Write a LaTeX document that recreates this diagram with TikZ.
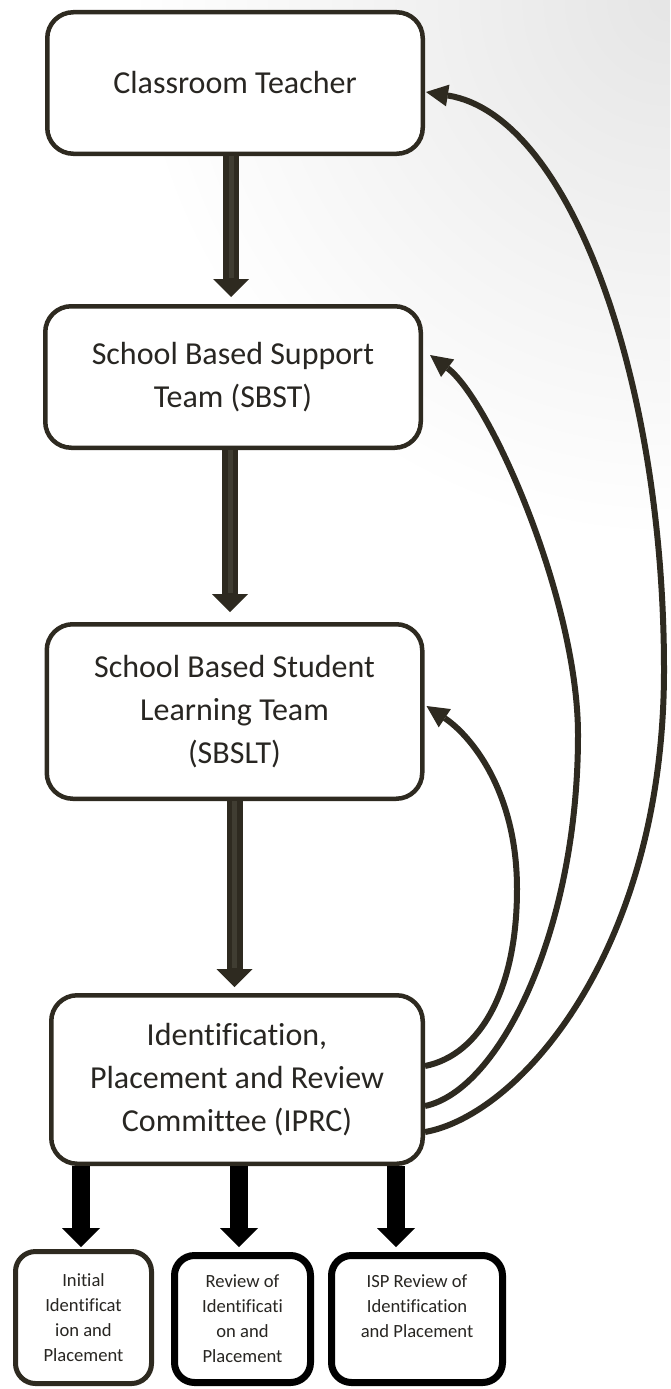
\documentclass[tikz,border=0pt]{standalone}
\usepackage{fontspec}
\setmainfont[Ligatures=NoCommon]{Carlito}
\usetikzlibrary{arrows.meta,calc}
\definecolor{dk}{RGB}{46,42,32}
\definecolor{txt}{RGB}{40,38,34}
\definecolor{stripecol}{RGB}{64,61,50}
\begin{document}
\begin{tikzpicture}[x=1pt,y=-1pt,
  mainbox/.style={draw=dk, line width=4.5pt, rounded corners=26pt, fill=white, text=txt,
    align=center, font=\fontsize{32}{43}\selectfont, minimum width=375.5pt, inner sep=0pt},
  smallbox/.style={draw=black, line width=7pt, rounded corners=20pt, fill=white, text=txt,
    align=center, font=\fontsize{18.6}{25}\selectfont, inner sep=0pt},
  bigarr/.style={draw=dk, line width=16pt, -{Triangle[length=18pt,width=36pt,line width=0pt]}},
  stripe/.style={draw=stripecol, line width=5pt},
  blackarr/.style={draw=black, line width=18pt, -{Triangle[length=19pt,width=38pt,line width=0pt]}},
  curvarr/.style={draw=dk, line width=6pt, -{Triangle[length=22pt,width=22pt,line width=0pt]}}
]
\useasboundingbox (0,0) rectangle (670,1389);
\begin{scope}
  \clip (0,0) rectangle (670,1389);
  \shade[inner color=black!10, outer color=white] (670,0) circle[radius=540pt];
\end{scope}

% main boxes
\node[mainbox, minimum height=141.5pt] (ct) at (235,83) {Classroom Teacher};
\node[mainbox, minimum height=141.5pt] (sbst) at (233,377) {School Based Support\\Team (SBST)};
\node[mainbox, minimum height=174.5pt] (sbslt) at (234.5,711.5) {School Based Student\\Learning Team\\(SBSLT)};
\node[mainbox, minimum width=371.5pt, minimum height=168.5pt] (iprc) at (237,1079.5) {Identification,\\Placement and Review\\Committee (IPRC)};

% bottom boxes
\node[smallbox, draw=dk, line width=5pt, minimum width=136pt, minimum height=132pt] (b1) at (83.5,1317.5) {Initial\\Identificat\\ion and\\Placement};
\node[smallbox, minimum width=136pt, minimum height=127pt] (b2) at (242.5,1319) {Review of\\Identificati\\on and\\Placement};
\node[smallbox, minimum width=171pt, minimum height=127pt, text depth=25pt] (b3) at (417,1319) {ISP Review of\\Identification\\and Placement};

% vertical arrows between main boxes
\draw[bigarr] ($(ct.south)+(-4,0)$) -- ($(ct.south |- sbst.north)+(-4,-7)$);
\draw[stripe] ($(ct.south)+(-4,0)$) -- ($(ct.south |- sbst.north)+(-4,-26)$);
\draw[bigarr] ($(sbst.south)+(-3,0)$) -- ($(sbst.south |- sbslt.north)+(-3,-10)$);
\draw[stripe] ($(sbst.south)+(-3,0)$) -- ($(sbst.south |- sbslt.north)+(-3,-29)$);
\draw[bigarr] (sbslt.south) -- ($(sbslt.south |- iprc.north)+(0,-6)$);
\draw[stripe] (sbslt.south) -- ($(sbslt.south |- iprc.north)+(0,-25)$);

% arrows to bottom boxes
\draw[blackarr] ($(iprc.south)+(-156,0)$) -- ($(iprc.south |- b1.north)+(-156,-2)$);
\draw[blackarr] ($(iprc.south)+(2,0)$) -- ($(iprc.south |- b2.north)+(2,-5)$);
\draw[blackarr] ($(iprc.south)+(159,0)$) -- ($(iprc.south |- b3.north)+(159,-5)$);

% feedback curves
\draw[curvarr] ($(iprc.east)+(0,52.5)$) .. controls (520,1115) and (664,950) .. (664,670)
  .. controls (664,380) and (570,115) .. ($(ct.east)+(1,9)$);
\draw[curvarr] ($(iprc.east)+(0,26.5)$) .. controls (500,1090) and (578,930) .. (578,735)
  .. controls (578,600) and (490,400) .. ($(sbst.east)+(7,-22)$);
\draw[curvarr] ($(iprc.east)+(0,-13.5)$) .. controls (480,1055) and (517,990) .. (517,889)
  .. controls (517,790) and (470,735) .. ($(sbslt.east)+(2,-5.5)$);
\end{tikzpicture}
\end{document}
